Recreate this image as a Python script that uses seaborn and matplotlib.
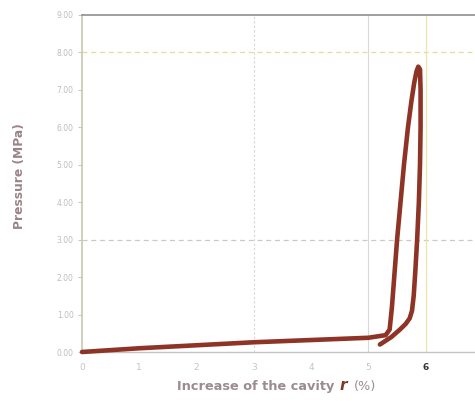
import matplotlib
matplotlib.use("Agg")
import matplotlib.pyplot as plt
import seaborn as sns
import pandas as pd

# data (path of the pressure–cavity curve, in drawing order)
cavity = [0.0, 0.5, 1.0, 2.0, 3.0, 4.0, 5.0, 5.3,
          5.37, 5.41, 5.45, 5.5, 5.56, 5.62, 5.69, 5.75, 5.8, 5.84, 5.87, 5.9,
          5.91, 5.91, 5.9, 5.88, 5.85, 5.82, 5.79, 5.76, 5.72, 5.65, 5.55, 5.4, 5.2]
pressure = [0.0, 0.05, 0.1, 0.18, 0.26, 0.32, 0.38, 0.45,
            0.6, 1.2, 2.0, 3.0, 4.0, 5.0, 6.0, 6.7, 7.2, 7.5, 7.62, 7.55,
            7.0, 6.0, 5.0, 4.0, 3.0, 2.2, 1.5, 1.1, 0.9, 0.75, 0.6, 0.4, 0.2]
xticks = [0, 1, 2, 3, 4, 5, 6]
yticks = [0, 1, 2, 3, 4, 5, 6, 7, 8, 9]

df = pd.DataFrame({"cavity": cavity, "pressure": pressure})

sns.set_theme(style="white")
fig = plt.figure(figsize=(4.75, 4.01), dpi=100)
ax = fig.add_axes([82/475, 1-352/401, 1-82/475, (352-15)/401])

# grid lines
ax.axhline(8, color="#e6dc9a", lw=0.9, ls=(0, (4, 3)), zorder=1)
ax.axhline(3, color="#c9c9c9", lw=0.9, ls=(0, (4, 3)), zorder=1)
ax.axvline(3, color="#d6d6d6", lw=0.8, ls=(0, (2, 2)), zorder=1)
ax.axvline(5, color="#d9d9d9", lw=0.8, zorder=1)
ax.axvline(6, color="#ebe6a8", lw=0.9, zorder=1)

sns.lineplot(data=df, x="cavity", y="pressure", sort=False, estimator=None,
             color="#8e3426", lw=3.3, ax=ax, clip_on=False, zorder=3,
             solid_joinstyle="round", solid_capstyle="round")

ax.set_xlim(0, 6.86)
ax.set_ylim(0, 9)
ax.set_xticks(xticks)
ax.set_yticks(yticks)
ax.set_yticklabels([f"{v:.2f}" for v in yticks])
ax.set_xticklabels([str(v) for v in xticks])
ax.tick_params(axis="y", labelsize=5.5, labelcolor="#bdbdbd", length=3,
               color="#bbbbbb", width=0.6, pad=3, direction="out", left=True)
ax.tick_params(axis="x", labelsize=6.5, labelcolor="#c4c4c4", length=0, pad=8)
for lbl in ax.get_xticklabels():
    if lbl.get_text() == "6":
        lbl.set_color("#333333")
        lbl.set_fontweight("bold")

ax.spines["right"].set_visible(False)
ax.spines["top"].set_color("#8f8f8f")
ax.spines["top"].set_linewidth(1.2)
ax.spines["left"].set_color("#c8c8b0")
ax.spines["left"].set_linewidth(1.2)
ax.spines["bottom"].set_color("#bfc4c8")
ax.spines["bottom"].set_linewidth(1.0)

ax.set_xlabel("")
ax.set_ylabel("")
fig.text(20/475, 1-176/401, "Pressure (MPa)", fontsize=8.8, color="#9a8488",
         fontweight="semibold", rotation=90, va="center", ha="center")

lab_color = "#9a8c90"
fig.text(177/475, 1-390/401, "Increase of the cavity", fontsize=9.3,
         color=lab_color, fontweight="bold", va="baseline", ha="left")
fig.text(340/475, 1-390/401, "r", fontsize=11, color="#7a3a28",
         fontweight="bold", style="italic", va="baseline", ha="left")
fig.text(354/475, 1-390/401, "(%)", fontsize=9.3,
         color=lab_color, va="baseline", ha="left")

fig.savefig("out.png", dpi=100)
